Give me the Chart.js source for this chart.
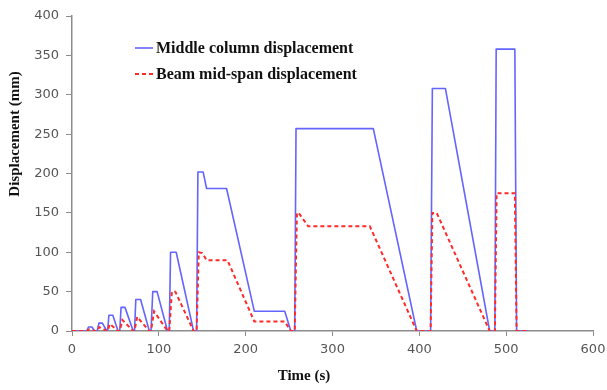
<!DOCTYPE html>
<html>
<head>
<meta charset="utf-8">
<script src="https://cdn.jsdelivr.net/npm/chart.js@4.4.1/dist/chart.umd.min.js"></script>
<style>
  html, body { margin: 0; padding: 0; background: #fff; }
  #wrap { width: 607px; height: 390px; }
</style>
</head>
<body>
<div id="wrap"><canvas id="dispChart" width="607" height="390"></canvas></div>
<script>
// Middle column displacement (mm) vs time (s)
const colTime = [0, 17, 19, 23, 26, 29, 31, 35, 40, 41, 42.5, 47, 53, 55, 56.5, 61, 70.5, 72, 73.5, 79, 89, 91, 93, 98, 110,
  112, 113.5, 120, 140, 143.5, 145, 151, 155, 178, 210, 245, 252, 256.5, 258, 347, 397, 413, 415, 430, 481, 487, 488.5, 510, 512, 525];
const colDisp = [0, 0, 5, 5, 0, 0, 10, 10, 0, 0, 20, 20, 0, 0, 30, 30, 0, 0, 40, 40, 0, 0, 50, 50, 0,
  0, 100, 100, 0, 0, 202, 202, 181, 181, 25, 25, 0, 0, 257, 257, 0, 0, 308, 308, 0, 0, 358, 358, 0, 0];

// Beam mid-span displacement (mm) vs time (s)
const beamTime = [0, 17, 20, 26, 29, 31.5, 40, 41, 43.5, 53, 55, 58, 70.5, 72, 75, 89, 91, 94.5, 110,
  112, 115, 119, 140, 143.5, 146, 150, 155, 179, 210, 245, 252, 256.5, 259, 261, 272, 343, 397, 413, 415, 420, 481, 487, 489, 510, 512, 525];
const beamDisp = [0, 0, 2, 0, 0, 5, 0, 0, 9, 0, 0, 14, 0, 0, 18, 0, 0, 25, 0,
  0, 50, 50, 0, 0, 100, 99, 90, 90, 12, 12, 0, 0, 150, 150, 133, 133, 0, 0, 150, 150, 0, 0, 175, 175, 0, 0];

const xTicks = [0, 100, 200, 300, 400, 500, 600];
const yTicks = [0, 50, 100, 150, 200, 250, 300, 350, 400];

const seriesNames = ['Middle column displacement', 'Beam mid-span displacement'];
const blue = '#6464ff';
const red = '#ff2a2a';
const axisGrey = '#8c8c8c';

function toPoints(ts, vs) {
  return ts.map((t, i) => ({ x: t, y: vs[i] }));
}

// axis titles and the legend sit at fixed spots, as in the source figure
const overlayPlugin = {
  id: 'overlay',
  afterDraw(chart) {
    const ctx = chart.ctx;
    ctx.save();
    ctx.fillStyle = '#111';
    ctx.font = 'bold 15px "Liberation Serif", serif';
    ctx.textAlign = 'center';
    ctx.textBaseline = 'middle';
    ctx.fillText('Time (s)', 304, 376);
    ctx.translate(15, 134);
    ctx.rotate(-Math.PI / 2);
    ctx.fillText('Displacement (mm)', 0, 0);
    ctx.restore();

    // legend
    ctx.save();
    ctx.font = 'bold 16px "Liberation Serif", serif';
    ctx.textAlign = 'left';
    ctx.textBaseline = 'middle';
    ctx.fillStyle = '#111';
    const rows = [48, 74];
    chart.data.datasets.forEach((ds, i) => {
      const y = rows[i];
      ctx.beginPath();
      ctx.strokeStyle = ds.borderColor;
      ctx.lineWidth = ds.borderWidth;
      ctx.setLineDash(ds.borderDash || []);
      ctx.moveTo(135, y);
      ctx.lineTo(153, y);
      ctx.stroke();
      ctx.setLineDash([]);
      ctx.fillText(ds.label, 156, y + 1);
    });
    ctx.restore();
  }
};

new Chart(document.getElementById('dispChart'), {
  type: 'scatter',
  data: {
    datasets: [
      {
        label: seriesNames[0],
        data: toPoints(colTime, colDisp),
        showLine: true,
        borderColor: blue,
        borderWidth: 1.6,
        borderJoinStyle: 'round',
        pointRadius: 0,
        tension: 0,
        order: 1
      },
      {
        label: seriesNames[1],
        data: toPoints(beamTime, beamDisp),
        showLine: true,
        borderColor: red,
        borderWidth: 2,
        borderDash: [4, 3],
        pointRadius: 0,
        tension: 0,
        order: 0
      }
    ]
  },
  options: {
    responsive: false,
    animation: false,
    layout: { padding: { top: 16, right: 14, left: 0, bottom: 0 } },
    plugins: {
      legend: { display: false },
      tooltip: { enabled: false }
    },
    scales: {
      x: {
        type: 'linear',
        min: 0,
        max: 600,
        afterBuildTicks(scale) { scale.ticks = xTicks.map(v => ({ value: v })); },
        afterFit(scale) {
          scale.height = 59;
          scale.paddingLeft = 0;
          scale.paddingRight = 0;
        },
        grid: { drawOnChartArea: false, tickLength: 5, color: axisGrey },
        border: { color: axisGrey, width: 1.5 },
        ticks: { padding: 6, color: '#555', font: { family: '"DejaVu Sans", sans-serif', size: 13 } }
      },
      y: {
        type: 'linear',
        min: 0,
        max: 400,
        afterBuildTicks(scale) { scale.ticks = yTicks.map(v => ({ value: v })); },
        afterFit(scale) {
          scale.width = 72;
          scale.paddingTop = 0;
          scale.paddingBottom = 0;
        },
        grid: { drawOnChartArea: false, tickLength: 6, color: axisGrey },
        border: { color: axisGrey, width: 1.5 },
        ticks: { padding: 7, color: '#555', font: { family: '"DejaVu Sans", sans-serif', size: 13 } }
      }
    }
  },
  plugins: [overlayPlugin]
});
</script>
</body>
</html>
